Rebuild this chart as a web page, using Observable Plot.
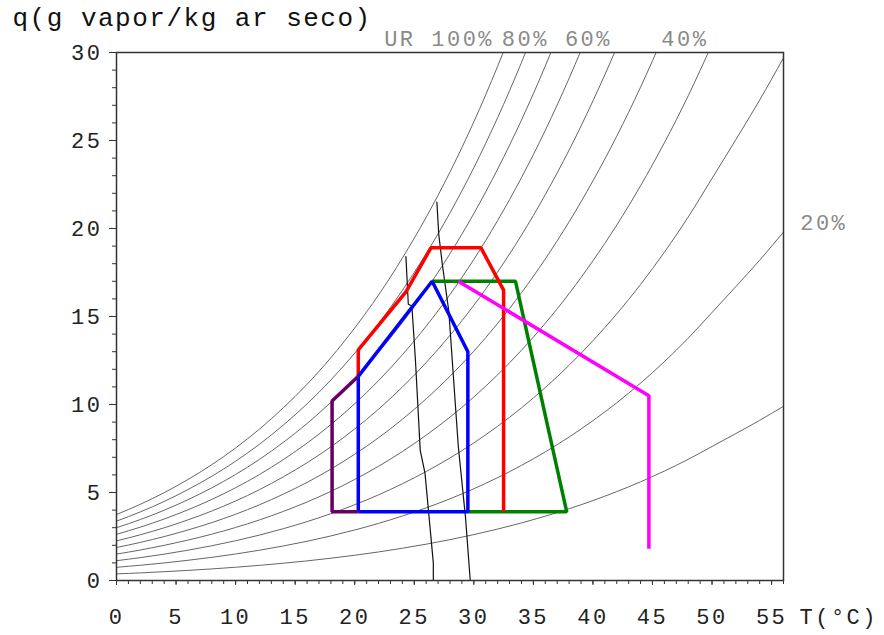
<!DOCTYPE html>
<html><head><meta charset="utf-8">
<script src="https://cdn.jsdelivr.net/npm/d3@7"></script>
<script src="https://cdn.jsdelivr.net/npm/@observablehq/plot@0.6"></script>
<style>
body{margin:0;background:#fff}
#chart{width:884px;height:635px}
#chart svg text{letter-spacing:2.5px}
</style>
</head><body><div id="chart"></div>
<script>
// Temperature grid (°C) and saturation specific humidity (g/kg)
const tempGrid = [0,2,4,6,8,10,12,14,16,18,20,22,24,26,28,30,32,34,36,38,40,42,44,46,48,50,52,54,56];
const satQ = [3.75,4.33,4.99,5.74,6.58,7.53,8.60,9.81,11.15,12.66,14.35,16.22,18.32,20.64,23.21,26.06,29.22,32.70,36.54,40.76,45.41,50.49,56.07,62.18,68.85,76.15,83.5,91.0,99.0];
const rhLevels = [10,20,30,40,50,60,70,80,90,100];

// Comfort / strategy zones (T °C, q g/kg)
const redT = [20.3,20.3,24.3,26.4,30.6,32.5,32.5];
const redQ = [11.6,13.1,16.4,18.9,18.9,16.5,3.9];
const blueT = [20.3,20.3,26.5,29.5,29.5,20.3];
const blueQ = [3.9,11.6,17.0,13.0,3.9,3.9];
const greenT = [26.5,33.5,37.8,29.5];
const greenQ = [17.0,17.0,3.9,3.9];
const magentaT = [28.7,44.7,44.7];
const magentaQ = [17.0,10.5,1.8];
const purpleT = [20.3,18.1,18.1,20.3];
const purpleQ = [11.6,10.2,3.9,3.9];

// Thin black lines
const lineAT = [24.3,24.5,24.8,25.1,25.5,25.9,26.6,26.6];
const lineAQ = [18.4,15.7,15.6,12.5,7.4,6.1,1.0,0];
const lineBT = [26.9,27.05,27.35,27.9,28.7,29.3,29.7];
const lineBQ = [21.5,19.7,18.0,15.3,7.6,3.6,0];

// Axis ticks
const xMajorTicks = [0,5,10,15,20,25,30,35,40,45,50,55];
const yMajorTicks = [0,5,10,15,20,25,30];
const xMinorTicks = d3.range(0,57,1);
const yMinorTicks = d3.range(0,31,1);

// Labels
const rhLabelText = ["UR 100%","80%","60%","40%"];
const rhLabelT = [31.7,36.3,41.6,49.7];
const sideLabelText = ["20%"];
const sideLabelT = [57.4];
const sideLabelQ = [20.3];
const yTitle = "q(g vapor/kg ar seco)";
const xTitle = "T(°C)";

const curves = rhLevels.flatMap(rh => tempGrid.map((t,i) => ({T:t, q: satQ[i]*rh/100, rh})));
const pts = (T,Q) => T.map((t,i) => ({T:t, q:Q[i]}));

const FONT = "Liberation Mono, DejaVu Sans Mono, monospace";
const zone = (T,Q,color) => Plot.line(pts(T,Q), {x:"T", y:"q", stroke: color, strokeWidth: 3.5, strokeLinejoin:"miter", strokeLinecap:"butt"});

const chart = Plot.plot({
  width: 884, height: 635,
  marginLeft: 116, marginRight: 101, marginTop: 52, marginBottom: 55,
  style: {fontFamily: FONT, fontSize: "22px", color: "#222", background: "#fff"},
  x: {domain: [0,56]},
  y: {domain: [0,30]},
  marks: [
    Plot.line(curves, {x:"T", y:"q", z:"rh", curve:"monotone-x", stroke:"#666", strokeWidth:1, clip:true}),
    Plot.line(pts(lineAT,lineAQ), {x:"T", y:"q", stroke:"#111", strokeWidth:1.2}),
    Plot.line(pts(lineBT,lineBQ), {x:"T", y:"q", stroke:"#111", strokeWidth:1.2}),
    zone(greenT, greenQ, "#008000"),
    zone(redT, redQ, "#ff0000"),
    zone(blueT, blueQ, "#0000ff"),
    zone(purpleT, purpleQ, "#660066"),
    zone(magentaT, magentaQ, "#ff00ff"),
    Plot.frame({stroke:"#333", strokeWidth:1.5}),
    Plot.axisX({ticks: xMinorTicks, tickSize: 4, text: null, label: null, stroke:"#333"}),
    Plot.axisX({ticks: xMajorTicks, tickSize: 5, tickPadding: 23, label: null, stroke:"#333", fill:"#222"}),
    Plot.axisY({ticks: yMinorTicks, tickSize: 4, text: null, label: null, stroke:"#333"}),
    Plot.axisY({ticks: yMajorTicks, tickSize: 7, tickPadding: 7, label: null, stroke:"#333", fill:"#222"}),
    Plot.text(rhLabelText, {x: (d,i) => rhLabelT[i], y: () => 30, text: d => d, textAnchor:"end", lineAnchor:"bottom", dy:-7, fill:"#8a8a8a", fontSize: 22}),
    Plot.text(sideLabelText, {x: (d,i) => sideLabelT[i], y: (d,i) => sideLabelQ[i], text: d => d, textAnchor:"start", lineAnchor:"middle", fill:"#8a8a8a", fontSize: 22}),
    Plot.text([yTitle], {frameAnchor:"top-left", text: d => d, textAnchor:"start", lineAnchor:"top", dx:-104, dy:-45, fill:"#111", fontSize: 26}),
    Plot.text([xTitle], {frameAnchor:"bottom-right", text: d => d, textAnchor:"start", lineAnchor:"top", dx:16, dy:28, fill:"#222", fontSize: 22})
  ]
});
document.getElementById("chart").appendChild(chart);
// title letter spacing a bit tighter
d3.select(chart).selectAll("text").filter(function(){ return this.textContent === yTitle; }).style("letter-spacing","1.5px");
</script>
</body></html>
